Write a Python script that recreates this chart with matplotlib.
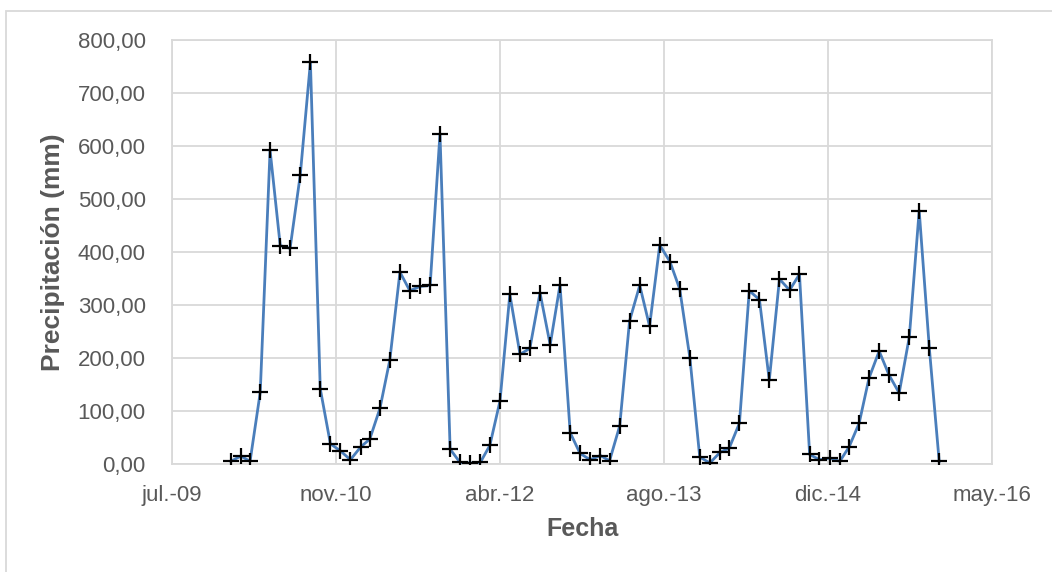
import matplotlib
matplotlib.use('Agg')
import matplotlib.pyplot as plt
import pandas as pd
from matplotlib.patches import Rectangle

# monthly precipitation, jan 2010 - dec 2015
fechas = pd.date_range('2010-01-01', periods=72, freq='MS')
precip = [5, 15, 5, 135, 592, 412, 407, 545, 758, 142, 38, 25,
          8, 32, 47, 105, 196, 362, 327, 335, 337, 623, 28, 3,
          2, 3, 35, 119, 320, 207, 218, 323, 225, 338, 59, 20,
          8, 16, 6, 72, 270, 337, 260, 413, 382, 330, 200, 13,
          2, 22, 30, 77, 327, 310, 158, 349, 328, 358, 18, 8,
          11, 5, 32, 77, 162, 213, 168, 134, 240, 478, 218, 5]

tick_fechas = pd.date_range('2009-07-06', periods=6, freq='500D')
tick_labels = ['jul.-09', 'nov.-10', 'abr.-12', 'ago.-13', 'dic.-14', 'may.-16']
y_ticks = list(range(0, 900, 100))

gris = '#595959'
plt.rcParams['font.family'] = ['Liberation Sans', 'DejaVu Sans']

fig = plt.figure(figsize=(10.52, 5.72), dpi=100)
fig.patches.append(Rectangle((6/1052, -0.1), 1.1, 1.1 - 11/572, transform=fig.transFigure,
                             fill=False, edgecolor='#d9d9d9', linewidth=1.3))
ax = fig.add_axes([172/1052, 1 - 464/572, (992-172)/1052, (464-40)/572])

ax.plot(fechas, precip, color='#4a7ebb', linewidth=2.0, marker='+',
        markersize=12, markeredgecolor='black', markeredgewidth=1.6, zorder=3)

ax.set_xlim(tick_fechas[0], tick_fechas[-1])
ax.set_ylim(0, 800)
ax.set_xticks(tick_fechas)
ax.set_xticklabels(tick_labels)
ax.set_yticks(y_ticks)
ax.set_yticklabels(['%d,00' % v for v in y_ticks])

ax.grid(True, color='#d9d9d9', linewidth=1.3)
ax.set_axisbelow(True)
for s in ax.spines.values():
    s.set_color('#d9d9d9')
    s.set_linewidth(1.3)
ax.tick_params(length=0, colors=gris, labelsize=16)
ax.tick_params(axis='y', pad=19)
ax.tick_params(axis='x', pad=15)

ax.set_xlabel('Fecha', fontsize=18, fontweight='bold', color=gris, labelpad=8)
ax.set_ylabel('Precipitación (mm)', fontsize=19, fontweight='bold', color=gris, labelpad=9)

fig.savefig('out.png', dpi=100)
